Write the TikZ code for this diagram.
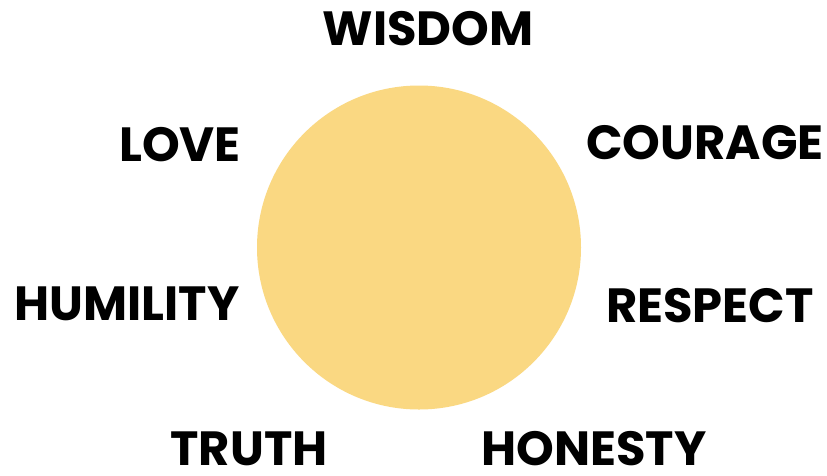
\documentclass[tikz,border=0pt]{standalone}
\usepackage{fontspec}
\setmainfont{Poppins}
\definecolor{sun}{RGB}{250,216,130}
\begin{document}
\begin{tikzpicture}[x=1pt,y=-1pt,
  virtue/.style={font=\fontsize{48}{48}\selectfont\bfseries, text=black, inner sep=0pt, anchor=center}]
\useasboundingbox (0,0) rectangle (827,475);
\fill[white] (0,0) rectangle (827,475);
\node[circle, fill=sun, minimum size=324pt, inner sep=0pt] (sun) at (419,247.5) {};
\node[virtue] (wisdom) at (428,29) {WISDOM};
\node[virtue] (love) at (180,145) {LOVE};
\node[virtue] (courage) at (705,143) {COURAGE};
\node[virtue] (humility) at (127,304) {HUMILITY};
\node[virtue] (respect) at (710,306) {RESPECT};
\node[virtue] (truth) at (249,449) {TRUTH};
\node[virtue] (honesty) at (594,449) {HONESTY};
\end{tikzpicture}
\end{document}
